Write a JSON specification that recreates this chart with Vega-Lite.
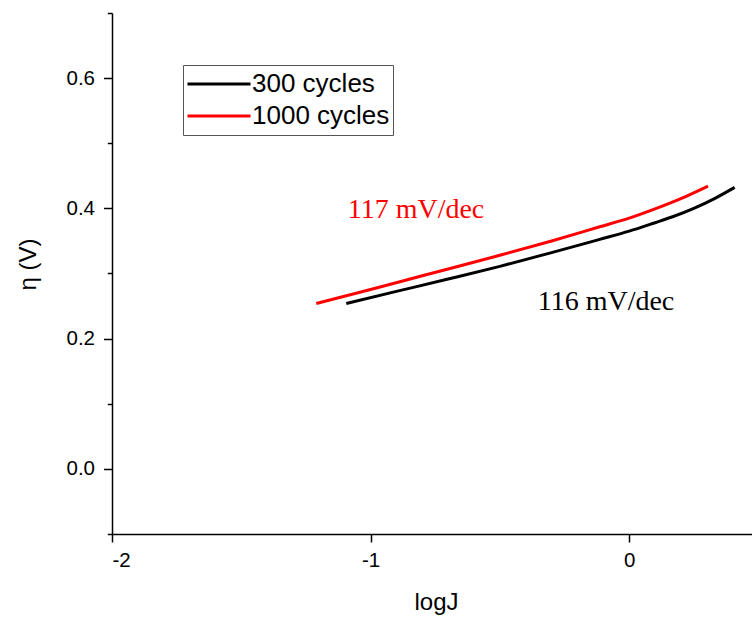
{
  "$schema": "https://vega.github.io/schema/vega-lite/v6.json",
  "width": 640,
  "height": 521,
  "autosize": {"type": "none"},
  "padding": {"left": 112, "top": 13, "right": 0, "bottom": 86},
  "background": "white",
  "config": {
    "view": {"stroke": null},
    "font": "Liberation Sans",
    "axis": {
      "grid": false,
      "domainColor": "black",
      "domainWidth": 1.5,
      "tickColor": "black",
      "tickWidth": 1.5,
      "labelColor": "black",
      "titleColor": "black",
      "labelFont": "Liberation Sans",
      "titleFont": "Liberation Sans",
      "labelFontSize": 20.5,
      "titleFontSize": 24,
      "titleFontWeight": "normal"
    },
    "legend": {
      "orient": "none",
      "legendX": 71,
      "legendY": 52,
      "strokeColor": "#555555",
      "fillColor": "white",
      "padding": 3,
      "symbolType": "stroke",
      "symbolSize": 3969,
      "symbolStrokeWidth": 3,
      "labelFont": "Liberation Sans",
      "labelFontSize": 26,
      "labelColor": "black",
      "labelOffset": 0,
      "clipHeight": 32,
      "rowPadding": 0,
      "labelLimit": 300
    }
  },
  "datasets": {
    "curves": [
      {"series": "300 cycles", "logJ": -1.094, "eta": 0.254},
      {"series": "300 cycles", "logJ": -0.9, "eta": 0.2725},
      {"series": "300 cycles", "logJ": -0.7, "eta": 0.2915},
      {"series": "300 cycles", "logJ": -0.5, "eta": 0.311},
      {"series": "300 cycles", "logJ": -0.3, "eta": 0.332},
      {"series": "300 cycles", "logJ": -0.114, "eta": 0.3524},
      {"series": "300 cycles", "logJ": 0.0, "eta": 0.365},
      {"series": "300 cycles", "logJ": 0.1, "eta": 0.378},
      {"series": "300 cycles", "logJ": 0.168, "eta": 0.3871},
      {"series": "300 cycles", "logJ": 0.25, "eta": 0.4},
      {"series": "300 cycles", "logJ": 0.33, "eta": 0.415},
      {"series": "300 cycles", "logJ": 0.408, "eta": 0.4322},
      {"series": "1000 cycles", "logJ": -1.21, "eta": 0.254},
      {"series": "1000 cycles", "logJ": -1.0, "eta": 0.2755},
      {"series": "1000 cycles", "logJ": -0.8, "eta": 0.2965},
      {"series": "1000 cycles", "logJ": -0.656, "eta": 0.3114},
      {"series": "1000 cycles", "logJ": -0.5, "eta": 0.328},
      {"series": "1000 cycles", "logJ": -0.3, "eta": 0.35},
      {"series": "1000 cycles", "logJ": -0.114, "eta": 0.3717},
      {"series": "1000 cycles", "logJ": 0.0, "eta": 0.385},
      {"series": "1000 cycles", "logJ": 0.105, "eta": 0.4},
      {"series": "1000 cycles", "logJ": 0.2, "eta": 0.415},
      {"series": "1000 cycles", "logJ": 0.305, "eta": 0.4343}
    ],
    "notes": [
      {"series": "1000 cycles", "logJ": -1.0886, "eta": 0.3846, "label": "117 mV/dec"},
      {"series": "300 cycles", "logJ": -0.3538, "eta": 0.2438, "label": "116 mV/dec"}
    ]
  },
  "resolve": {"axis": {"y": "independent"}},
  "layer": [
    {
      "data": {"name": "curves"},
      "mark": {"type": "line", "strokeWidth": 3, "interpolate": "monotone"},
      "encoding": {
        "x": {
          "field": "logJ", "type": "quantitative",
          "scale": {"domain": [-2, 0.475], "nice": false, "zero": false},
          "axis": {"title": "logJ", "values": [-2, -1, 0], "labelExpr": "'' + datum.value", "tickSize": 8, "labelPadding": 8, "titleX": 324, "titleY": 75, "titleBaseline": "alphabetic"}
        },
        "y": {
          "field": "eta", "type": "quantitative",
          "scale": {"domain": [-0.1, 0.7], "nice": false, "zero": false},
          "axis": {"title": "η (V)", "orient": "left", "values": [0, 0.2, 0.4, 0.6], "format": ".1f", "tickSize": 8.5, "labelPadding": 9, "titleX": -77, "titleY": 251, "titleBaseline": "alphabetic", "titleAlign": "center", "titleAngle": 270}
        },
        "color": {
          "field": "series", "type": "nominal",
          "scale": {"domain": ["300 cycles", "1000 cycles"], "range": ["#000000", "#ff0000"]},
          "legend": {"title": null}
        },
        "detail": {"field": "series"}
      }
    },
    {
      "data": {"name": "notes"},
      "mark": {"type": "text", "font": "Liberation Serif", "fontSize": 28, "align": "left", "baseline": "alphabetic"},
      "encoding": {
        "x": {"field": "logJ", "type": "quantitative", "axis": {"title": "logJ", "values": [-2, -1, 0], "labelExpr": "'' + datum.value", "tickSize": 8, "labelPadding": 8, "titleX": 324, "titleY": 75, "titleBaseline": "alphabetic"}},
        "y": {
          "field": "eta", "type": "quantitative",
          "axis": {"title": null, "orient": "left", "values": [-0.1, 0.1, 0.3, 0.5, 0.7], "labels": false, "domain": false, "tickSize": 4.7}
        },
        "text": {"field": "label"},
        "color": {"field": "series", "type": "nominal", "legend": null}
      }
    }
  ]
}
